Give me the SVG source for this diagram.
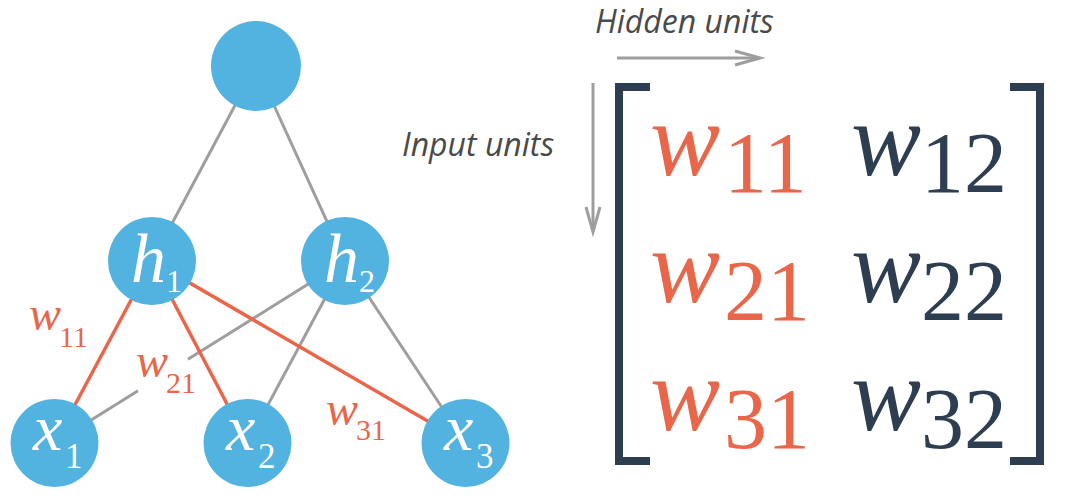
<svg xmlns="http://www.w3.org/2000/svg" width="1066" height="498" viewBox="0 0 1066 498">
<style>
.node{fill:#52B2E0}
.eg{stroke:#9E9E9E;stroke-width:3;fill:none}
.eo{stroke:#E9664B;stroke-width:3.5;fill:none}
.i{font-style:italic}
.wt{fill:#FFFFFF}
.or{fill:#E9664B}
.dk{fill:#2C3E50}
.lbl{font-family:'Open Sans','DejaVu Sans',sans-serif;font-style:italic;font-size:32px;fill:#4A4A4A}
.arr{stroke:#9E9E9E;stroke-width:3;fill:none}
.br{stroke:#2C3E50;stroke-width:8;fill:none;stroke-linejoin:miter}
</style>
<rect width="1066" height="498" fill="#FFFFFF"/>
<g id="connectors">
<line class="eg" x1="256" y1="66" x2="152" y2="261"/>
<line class="eg" x1="256" y1="66" x2="345" y2="261"/>
<line class="eg" x1="345" y1="261" x2="188" y2="359.3"/>
<line class="eg" x1="138" y1="390.7" x2="54.5" y2="443"/>
<line class="eg" x1="345" y1="261" x2="247.5" y2="443"/>
<line class="eg" x1="345" y1="261" x2="465.5" y2="443"/>
<line class="eo" x1="152" y1="261" x2="54.5" y2="443"/>
<line class="eo" x1="152" y1="261" x2="247.5" y2="443"/>
<line class="eo" x1="152" y1="261" x2="465.5" y2="443"/>
</g>
<g id="out"><circle class="node" cx="256" cy="66" r="45"/></g>
<g id="h1" font-family="Liberation Serif"><circle class="node" cx="152" cy="261" r="44"/>
<text class="i wt" x="131" y="282" font-size="70">h</text><text class="wt" x="166" y="292" font-size="32">1</text></g>
<g id="h2" font-family="Liberation Serif"><circle class="node" cx="345" cy="261" r="44"/>
<text class="i wt" x="324" y="282" font-size="70">h</text><text class="wt" x="359" y="292" font-size="32">2</text></g>
<g id="x1" font-family="Liberation Serif"><circle class="node" cx="54.5" cy="443" r="44"/>
<text class="i wt" x="33" y="450" font-size="66">x</text><text class="wt" x="65" y="468" font-size="35">1</text></g>
<g id="x2" font-family="Liberation Serif"><circle class="node" cx="247.5" cy="443" r="44"/>
<text class="i wt" x="226" y="450" font-size="66">x</text><text class="wt" x="258" y="468" font-size="35">2</text></g>
<g id="x3" font-family="Liberation Serif"><circle class="node" cx="465.5" cy="443" r="44"/>
<text class="i wt" x="444" y="450" font-size="66">x</text><text class="wt" x="476" y="468" font-size="35">3</text></g>
<g id="edge-labels" font-family="Liberation Serif">
<text class="i or" x="29" y="330" font-size="48">w</text><text class="or" x="59" y="347" font-size="30">11</text>
<text class="i or" x="136" y="377" font-size="48">w</text><text class="or" x="166" y="393" font-size="30">21</text>
<text class="i or" x="326" y="425" font-size="48">w</text><text class="or" x="356" y="440" font-size="30">31</text>
</g>
<g id="axes">
<text class="lbl" x="595" y="33">Hidden units</text>
<line class="arr" x1="617" y1="58" x2="759" y2="58"/>
<polyline class="arr" points="735,51 760,58 735,65"/>
<text class="lbl" x="402" y="156">Input units</text>
<line class="arr" x1="593" y1="83" x2="593" y2="231"/>
<polyline class="arr" points="586,207 593,232 600,207"/>
</g>
<g id="matrix" font-family="Liberation Serif">
<path class="br" d="M650,87 H619 V461 H650"/>
<path class="br" d="M1010,87 H1040 V461 H1010"/>
<text class="i or" x="650" y="175" font-size="105">w</text><text class="or" x="724" y="192" font-size="86">11</text>
<text class="i dk" x="851" y="175" font-size="105">w</text><text class="dk" x="921" y="192" font-size="86">12</text>
<text class="i or" x="650" y="302" font-size="105">w</text><text class="or" x="724" y="320" font-size="86">21</text>
<text class="i dk" x="851" y="302" font-size="105">w</text><text class="dk" x="921" y="320" font-size="86">22</text>
<text class="i or" x="650" y="430" font-size="105">w</text><text class="or" x="724" y="448" font-size="86">31</text>
<text class="i dk" x="851" y="430" font-size="105">w</text><text class="dk" x="921" y="448" font-size="86">32</text>
</g>
</svg>
